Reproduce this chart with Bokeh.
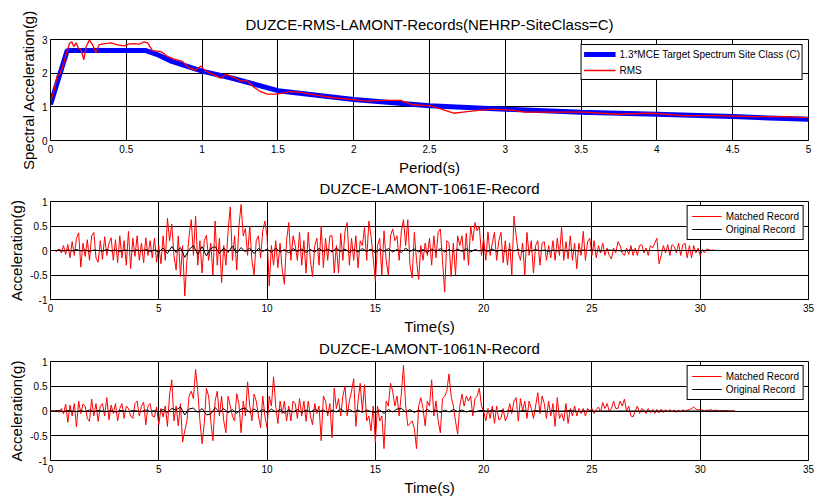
import numpy as np
from bokeh.plotting import figure
from bokeh.layouts import column
from bokeh.models import Range1d, FixedTicker, NumeralTickFormatter
from bokeh.embed import file_html
from bokeh.resources import INLINE

FONT = "Liberation Sans"

# ---------------- data: response spectrum ----------------
target_T = [0.0, 0.11, 0.63, 0.7, 0.8, 1.0, 1.2, 1.5, 2.0, 2.5, 3.0, 3.5, 4.0, 4.5, 5.0]
target_Sa = [1.07, 2.67, 2.67, 2.56, 2.35, 2.06, 1.85, 1.48, 1.22, 1.03, 0.93, 0.84, 0.78, 0.71, 0.63]

rms_T = [0, 0.026, 0.044, 0.061, 0.081, 0.103, 0.125, 0.14, 0.154, 0.169,
         0.184, 0.2, 0.22, 0.235, 0.257, 0.278, 0.3, 0.32, 0.355, 0.4,
         0.443, 0.487, 0.52, 0.553, 0.585, 0.618, 0.64, 0.673, 0.728, 0.772,
         0.816, 0.87, 0.914, 0.958, 0.991, 1.024, 1.079, 1.123, 1.156, 1.21,
         1.254, 1.298, 1.342, 1.386, 1.43, 1.496, 1.58, 1.65, 1.76, 1.87,
         1.98, 2.09, 2.2, 2.31, 2.38, 2.51, 2.66, 2.75, 2.9, 3.04,
         3.13, 3.3, 3.52, 3.74, 3.96, 4.18, 4.4, 4.62, 4.84, 5.0]
rms_Sa = [1.14, 1.53, 1.92, 1.97, 2.2, 2.55, 2.88, 2.93, 2.79, 2.90,
          2.74, 2.71, 2.40, 2.79, 2.98, 2.84, 2.61, 2.84, 2.88, 2.90,
          2.84, 2.81, 2.87, 2.88, 2.86, 2.93, 2.90, 2.67, 2.64, 2.50,
          2.42, 2.35, 2.16, 2.09, 2.21, 2.06, 1.95, 1.85, 1.97, 1.87,
          1.77, 1.77, 1.58, 1.45, 1.38, 1.38, 1.45, 1.43, 1.34, 1.27,
          1.22, 1.17, 1.19, 1.19, 1.07, 1.03, 0.81, 0.86, 0.93, 0.90,
          0.84, 0.84, 0.84, 0.78, 0.81, 0.74, 0.74, 0.71, 0.71, 0.68]

# ---------------- data: time histories ----------------
dt_matched = 0.1
dt_original = 0.2

E_matched = [
    0, 0, 0, -0.02, 0.03, -0.05, 0.1, -0.08, 0.12, -0.15,
    0.18, -0.1, 0.25, 0.36, -0.34, 0.15, -0.12, 0.22, -0.2, 0.3,
    0.37, -0.15, -0.24, 0.2, -0.18, 0.28, -0.1, 0.15, 0.26, -0.2,
    0.22, -0.25, 0.3, -0.15, 0.2, -0.3, 0.39, -0.37, 0.25, -0.12,
    0.3, -0.2, 0.15, -0.25, 0.26, -0.1, 0.2, -0.15, 0.25, -0.24,
    0.1, -0.27, 0.3, -0.2, 0.66, 0.2, 0.54, -0.1, -0.4, 0.3,
    -0.53, 0.1, -0.93, -0.2, 0.3, 0.63, -0.1, 0.7, -0.3, 0.2,
    -0.46, 0.2, 0.31, -0.2, 0.15, -0.5, 0.6, -0.3, 0.25, -0.66,
    0.1, -0.3, 0.4, 0.89, -0.2, 0.3, -0.4, 0.5, 0.94, 0.3,
    0.45, -0.1, 0.5, -0.2, -0.5, 0.2, 0.3, -0.15, 0.4, 0.6,
    0.3, -0.72, 0.1, -0.3, 0.2, -0.35, 0.15, -0.4, -0.69, 0.2,
    0.57, -0.2, 0.3, 0.1, -0.2, 0.37, -0.3, 0.2, -0.46, 0.37,
    -0.2, -0.53, 0.1, 0.25, -0.3, 0.5, -0.35, 0.25, -0.2, 0.3,
    0.3, -0.46, 0.1, -0.46, 0.35, -0.2, 0.4, 0.57, -0.3, 0.25,
    -0.2, 0.3, -0.35, 0.2, 0.1, 0.47, -0.2, 0.6, 0.3, -0.15,
    -0.63, 0.1, 0.25, -0.5, 0.4, -0.2, -0.5, 0.3, 0.44, 0.2,
    0.3, -0.2, 0.4, 0.63, 0.1, 0.63, -0.3, -0.56, 0.37, -0.2,
    -0.59, 0.1, -0.2, 0.15, -0.1, 0.25, -0.3, 0.3, -0.15, 0.37,
    0.44, -0.2, -0.85, 0.2, 0.15, -0.53, 0.15, -0.5, 0.3, 0.1,
    0.3, -0.2, 0.35, -0.3, 0.5, 0.2, 0.57, 0.4, 0.5, -0.1,
    0.25, -0.2, 0.38, -0.1, 0.15, 0.37, -0.2, 0.2, 0.37, -0.25,
    0.2, -0.3, 0.15, -0.5, 0.7, 0.3, -0.05, -0.2, 0.15, -0.5,
    0.37, -0.1, 0.2, -0.46, 0.1, 0.2, -0.3, 0.15, 0.18, -0.2,
    0.1, -0.15, 0.2, -0.2, 0.25, -0.1, 0.47, -0.2, 0.18, -0.17,
    0.3, -0.2, 0.15, -0.37, 0.15, -0.1, 0.39, -0.2, 0.18, 0.25,
    -0.1, 0.2, -0.15, 0.1, -0.05, 0.15, -0.1, 0.05, -0.1, -0.17,
    0.05, -0.05, 0.18, 0.1, -0.05, -0.1, 0.05, -0.08, 0.1, -0.1,
    0.05, -0.1, 0.1, 0.12, -0.05, 0.05, -0.1, 0.1, 0.05, 0.15,
    0.25, -0.27, -0.1, 0.1, -0.05, 0.12, -0.1, 0.12, 0.08, -0.05,
    0.15, -0.1, 0.12, 0.15, -0.15, 0.1, -0.15, 0.1, -0.05, 0.05,
    -0.1, 0.02, -0.05, 0.03, 0.02, 0, 0.01, 0, 0, 0,
    0,
]

E_original = [
    0, 0, 0.01, -0.01, 0.01, -0.01, 0.02, -0.01, 0.01, -0.02, 0.01, 0, -0.01, 0.02, -0.01,
    0.01, -0.02, 0.01, 0, -0.01, 0.01, -0.01, 0.02, -0.02, 0.01,
    -0.03, 0.05, -0.06, 0.08, -0.04, 0.06, -0.14, 0.02, 0.1, -0.08, 0.08, -0.11, 0.04, 0.08, -0.06,
    0.05, -0.04, 0.09, -0.05, 0.06, -0.03, 0.05, -0.06, 0.04, -0.02,
    0.03, -0.04, 0.05, -0.03, 0.02, -0.05, 0.04, -0.02, 0.03, -0.04, 0.02, -0.03, 0.04, -0.02, 0.03,
    -0.03, 0.05, -0.02, 0.03, -0.04, 0.02, -0.03, 0.04, -0.02, 0.03,
    -0.05, 0.03, -0.02, 0.04, -0.03, 0.02, -0.04, 0.05, -0.02, 0.03, -0.03, 0.02, -0.04, 0.03, -0.02,
    0.04, -0.03, 0.02, -0.02, 0.03, -0.02, 0.04, -0.03, 0.02, -0.01,
    0.02, -0.02, 0.03, -0.02, 0.01, -0.02, 0.02, -0.01, 0.02, -0.02, 0.01, -0.01, 0.02, -0.01, 0.01,
    -0.02, 0.01, -0.01, 0.01, -0.01, 0.01, 0, -0.01, 0.01, 0,
    0.01, 0, -0.01, 0, 0.01, 0, 0, -0.01, 0, 0.01, 0, 0, 0, 0, 0, 0,
    0, 0, 0, 0, 0, 0, 0, 0, 0, 0, 0, 0, 0, 0, 0,
]

N_matched = [
    0, 0, 0, 0.01, -0.03, 0.05, -0.06, 0.14, -0.23, 0.12,
    -0.1, 0.15, -0.32, 0.2, -0.05, 0.14, 0.1, -0.15, -0.21, 0.24,
    -0.1, 0.15, -0.21, 0.1, 0.15, -0.1, 0.27, -0.18, 0.12, -0.05,
    0.15, -0.2, 0.05, 0.15, -0.15, 0.1, 0.05, -0.1, -0.15, 0.15,
    0.2, -0.1, 0.1, 0.18, -0.28, 0.1, 0.15, -0.1, -0.12, 0.08,
    -0.28, 0.05, -0.12, 0.1, -0.31, 0.34, 0.63, -0.2, 0.1, -0.3,
    0.15, -0.63, -0.4, -0.2, 0.3, 0.4, 0.25, 0.84, 0.4, -0.2,
    -0.66, -0.25, 0.46, 0.3, -0.2, -0.6, 0.2, 0.4, -0.1, 0.3,
    -0.2, -0.44, 0.3, 0.1, -0.1, -0.2, 0.35, 0.15, -0.44, 0.2,
    -0.1, 0.59, 0.1, -0.2, 0.34, 0.2, -0.1, -0.34, 0.3, -0.1,
    -0.34, 0.3, 0.1, 0.69, 0.1, -0.25, 0.2, -0.05, 0.2, -0.2,
    0.1, -0.2, 0.2, 0.15, -0.15, 0.25, -0.1, 0.2, -0.21, 0.2,
    -0.1, -0.28, 0.15, -0.05, 0.1, -0.6, 0.3, 0.2, -0.1, 0.15,
    -0.54, 0.46, 0.05, 0.25, -0.1, 0.3, 0.5, -0.1, 0.2, 0.4,
    0.65, -0.31, 0.2, 0.56, 0.0, 0.53, -0.2, -0.1, -0.4, 0.1,
    -0.63, 0.1, -0.2, -0.1, -0.76, 0.2, 0.1, 0.56, 0.4, 0.1,
    0.3, -0.1, 0.35, 0.92, 0.1, -0.3, -0.25, -0.2, -0.35, -0.76,
    0.1, 0.27, 0.05, -0.3, 0.2, 0.1, 0.63, -0.1, 0.2, -0.2,
    -0.44, 0.25, 0.3, 0.4, 0.75, 0.3, 0.1, -0.2, -0.47, 0.1,
    0.34, 0.1, 0.3, 0.2, 0.3, -0.1, 0.25, 0.3, 0.46, 0.1,
    0.0, -0.2, 0.05, -0.15, 0.1, -0.25, 0.1, -0.18, -0.15, 0.05,
    -0.2, -0.1, 0.15, -0.05, 0.2, 0.27, -0.2, 0.25, 0.0, 0.2,
    -0.15, 0.2, 0.05, -0.15, 0.1, 0.37, -0.05, 0.3, 0.15, -0.15,
    0.2, -0.1, 0.15, -0.31, 0.27, -0.15, -0.05, -0.2, 0.15, -0.25,
    0.05, -0.1, 0.1, -0.1, 0.05, -0.05, 0.05, -0.1, 0.05, 0.0,
    0.05, -0.05, 0.03, 0.08, -0.02, 0.17, 0.05, 0.15, 0.0, 0.05,
    0.2, 0.05, 0.05, 0.2, 0.1, 0.24, 0.0, 0.1, -0.1, -0.12,
    0.0, 0.1, -0.05, 0.05, 0.02, -0.05, 0.05, -0.03, 0.03, -0.05,
    0.03, -0.04, 0.04, -0.03, 0.03, -0.02, 0.03, -0.02, 0.02, -0.03,
    0.02, -0.02, 0.03, -0.01, 0.02, 0.03, 0.05, 0.08, 0.04, 0.02,
    0.03, 0.02, 0.0, 0.02, 0.01, 0.03, 0.0, 0.02, 0.01, 0.0,
    0.01, 0.0, 0.01, 0.0, 0.0, 0.0, 0.0,
]

N_original = [
    0, 0, 0.01, -0.01, 0.01, 0, -0.01, 0.01, -0.01, 0.02, -0.01, 0.01, 0, -0.01, 0.01,
    -0.02, 0.01, 0, -0.01, 0.01, 0, -0.01, 0.02, -0.01, 0.01,
    -0.02, 0.03, -0.03, 0.05, 0.02, 0.08, -0.08, 0.04, 0.06, -0.03, 0.05, -0.08, -0.06, 0.07, -0.02,
    0.05, -0.04, 0.03, -0.05, 0.04, 0.06, -0.03, 0.04, -0.02, 0.03,
    -0.03, 0.04, -0.02, 0.03, -0.04, 0.02, -0.02, 0.03, -0.03, 0.02, -0.02, 0.03, -0.01, 0.02, -0.03,
    0.02, -0.02, 0.04, -0.02, 0.03, -0.02, 0.02, -0.03, 0.02, -0.01,
    -0.03, 0.02, -0.05, 0.03, -0.02, 0.04, 0.05, -0.02, 0.03, -0.03, 0.02, -0.02, 0.03, -0.02, 0.02,
    -0.03, 0.02, -0.02, 0.03, -0.01, 0.02, -0.02, 0.01, -0.02, 0.01,
    0.01, -0.01, 0.02, -0.01, 0.01, -0.01, 0.01, 0, -0.01, 0.01, 0, -0.01, 0.01, 0, 0,
    -0.01, 0.01, 0, 0, 0, 0.01, 0, -0.01, 0, 0,
    0, 0, 0, 0, 0, 0, 0, 0, 0, 0, 0, 0, 0, 0, 0, 0, 0,
    0, 0, 0, 0, 0, 0, 0, 0, 0, 0, 0, 0, 0, 0, 0, 0, 0,
]

spec_xticks = [0, 0.5, 1, 1.5, 2, 2.5, 3, 3.5, 4, 4.5, 5]
spec_yticks = [0, 1, 2, 3]
time_xticks = [0, 5, 10, 15, 20, 25, 30, 35]
acc_yticks = [-1, -0.5, 0, 0.5, 1]


def styled_figure(height, top, bottom, title, xr, yr, xticks, yticks, xlabel, ylabel, standoff):
    p = figure(width=817, height=height, output_backend="svg", toolbar_location=None,
               x_range=Range1d(*xr), y_range=Range1d(*yr),
               min_border_left=50, min_border_right=9,
               min_border_top=top, min_border_bottom=bottom)
    p.title.text = title
    p.title.align = "center"
    p.title.text_font = FONT
    p.title.text_font_size = "15px"
    p.title.text_font_style = "normal"
    p.title.text_color = "black"
    p.title.standoff = standoff
    p.background_fill_color = "white"
    p.border_fill_alpha = 0
    p.outline_line_color = "black"
    p.outline_line_alpha = 1
    p.outline_line_width = 1
    p.xaxis.ticker = FixedTicker(ticks=xticks)
    p.yaxis.ticker = FixedTicker(ticks=yticks)
    for ax in (p.xaxis[0], p.yaxis[0]):
        ax.formatter = NumeralTickFormatter(format="0.[0]")
        ax.major_tick_in = 0
        ax.major_tick_out = 0
        ax.minor_tick_in = 0
        ax.minor_tick_out = 0
        ax.axis_line_color = "black"
        ax.major_label_text_font = FONT
        ax.major_label_text_font_size = "10px"
        ax.major_label_text_color = "black"
        ax.axis_label_text_font = FONT
        ax.axis_label_text_font_size = "15px"
        ax.axis_label_text_font_style = "normal"
        ax.axis_label_text_color = "black"
    p.xaxis.axis_label = xlabel
    p.yaxis.axis_label = ylabel
    p.xaxis.major_label_standoff = 4
    p.xaxis.axis_label_standoff = 3
    p.yaxis.major_label_standoff = 3
    p.yaxis.axis_label_standoff = 2
    for g in (p.xgrid[0], p.ygrid[0]):
        g.grid_line_color = "black"
        g.grid_line_alpha = 1
        g.grid_line_width = 1
    return p


def style_legend(p, glyph_w, row_h, spacing, padding, margin):
    lg = p.legend[0]
    lg.location = "top_right"
    lg.margin = margin
    lg.padding = padding
    lg.spacing = spacing
    lg.glyph_width = glyph_w
    lg.glyph_height = row_h
    lg.label_height = row_h
    lg.label_standoff = 4
    lg.label_text_font = FONT
    lg.label_text_font_size = "10px"
    lg.label_text_color = "black"
    lg.border_line_color = "black"
    lg.border_line_width = 1
    lg.border_line_alpha = 1
    lg.background_fill_color = "white"
    lg.background_fill_alpha = 1


# ---------------- top: spectrum ----------------
p1 = styled_figure(178, 39, 35, "DUZCE-RMS-LAMONT-Records(NEHRP-SiteClass=C)",
                   (0, 5), (0, 3), spec_xticks, spec_yticks,
                   "Period(s)", "Spectral Acceleration(g)", 14)
p1.line(target_T, target_Sa, line_color="blue", line_width=5,
        legend_label="1.3*MCE Target Spectrum Site Class (C)")
p1.line(rms_T, rms_Sa, line_color="red", line_width=1.3, legend_label="RMS")
style_legend(p1, 32, 14, 2, 2, 5)

# ---------------- middle: E record ----------------
tE = np.arange(len(E_matched)) * dt_matched
tEo = np.arange(len(E_original)) * dt_original
p2 = styled_figure(164, 27, 34, "DUZCE-LAMONT-1061E-Record",
                   (0, 35), (-1, 1), time_xticks, acc_yticks,
                   "Time(s)", "Acceleration(g)", 9)
p2.styles = {"margin-top": "-5px"}
p2.line(tE, E_matched, line_color="red", line_width=1, legend_label="Matched Record")
p2.line(tEo, E_original, line_color="black", line_width=1, legend_label="Original Record")
style_legend(p2, 30, 12, 1, 4, 4)

# ---------------- bottom: N record ----------------
tN = np.arange(len(N_matched)) * dt_matched
tNo = np.arange(len(N_original)) * dt_original
p3 = styled_figure(166, 29, 34, "DUZCE-LAMONT-1061N-Record",
                   (0, 35), (-1, 1), time_xticks, acc_yticks,
                   "Time(s)", "Acceleration(g)", 9)
p3.styles = {"margin-top": "-5px"}
p3.line(tN, N_matched, line_color="red", line_width=1, legend_label="Matched Record")
p3.line(tNo, N_original, line_color="black", line_width=1, legend_label="Original Record")
style_legend(p3, 30, 12, 1, 4, 4)

layout = column(p1, p2, p3, spacing=0)

with open("out.html", "w") as f:
    f.write(file_html(layout, INLINE))
